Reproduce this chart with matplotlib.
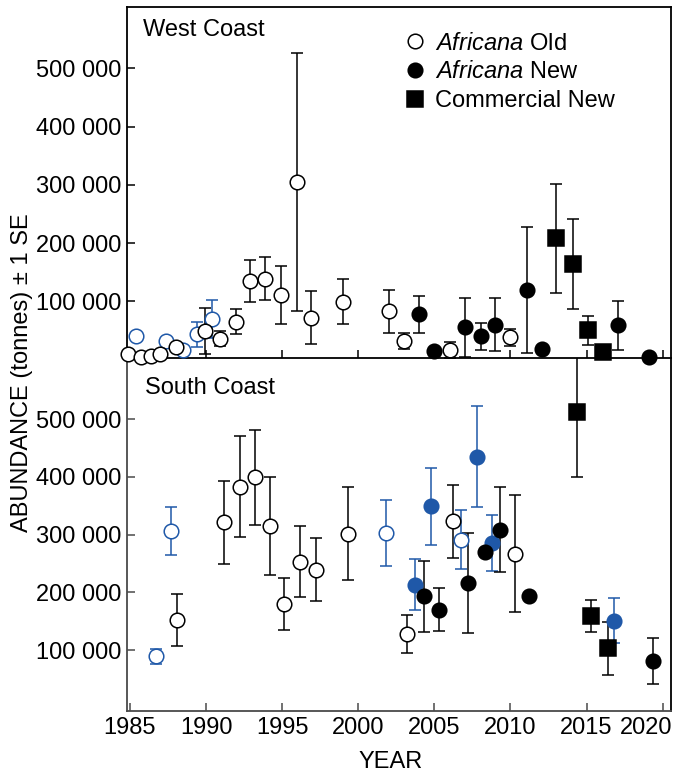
import matplotlib
matplotlib.use("Agg")
import matplotlib.pyplot as plt
from matplotlib.lines import Line2D
from matplotlib.ticker import FuncFormatter
from matplotlib.transforms import ScaledTranslation

plt.rcParams['font.family'] = ['Liberation Sans', 'DejaVu Sans']
plt.rcParams['mathtext.fontset'] = 'custom'
plt.rcParams['mathtext.rm'] = 'Liberation Sans'
plt.rcParams['mathtext.it'] = 'Liberation Sans:italic'

BLUE = '#1f58a8'
GREY = '#4a4a4a'

# ---- West Coast ----
# Africana Old (black)
w_old_yr = [1984.9, 1985.7, 1986.4, 1987.0, 1988.0, 1989.9, 1990.9, 1992.0, 1992.9, 1993.9,
            1994.9, 1996.0, 1996.9, 1999.0, 2002.0, 2003.0, 2006.0, 2010.0]
w_old_val = [9800, 4000, 5700, 10000, 21000, 49000, 36000, 65000, 135000, 139000,
             111000, 305000, 72000, 99000, 83000, 31600, 16000, 38500]
w_old_se = [0, 0, 0, 0, 0, 39000, 13000, 22000, 36000, 36500,
            49500, 222000, 45000, 38500, 37000, 14000, 14000, 14500]
# Africana Old (blue)
w_oldb_yr = [1985.4, 1987.4, 1988.5, 1989.4, 1990.4]
w_oldb_val = [39600, 31500, 17000, 43000, 70000]
w_oldb_se = [0, 0, 0, 21500, 33000]
# Africana New (black)
w_new_yr = [2004.0, 2005.0, 2007.0, 2008.1, 2009.0, 2011.1, 2012.1, 2017.1, 2019.1]
w_new_val = [77600, 14000, 55000, 40000, 60000, 119000, 18000, 58600, 4600]
w_new_se = [32000, 0, 50700, 23500, 45000, 108000, 0, 42000, 0]
# Commercial New
w_com_yr = [2013.0, 2014.1, 2015.1, 2016.1]
w_com_val = [208000, 164000, 50000, 12600]
w_com_se = [94000, 76500, 25000, 0]

# ---- South Coast ----
s_old_yr = [1988.1, 1991.2, 1992.2, 1993.2, 1994.2, 1995.1, 1996.2, 1997.2, 1999.3,
            2003.2, 2006.2, 2010.3]
s_old_val = [152000, 321000, 383000, 399000, 315000, 180000, 253000, 239000, 301000,
             128000, 323000, 267000]
s_old_se = [45000, 72000, 88000, 82000, 85000, 45000, 61000, 54500, 80500,
            33000, 63000, 101000]
s_oldb_yr = [1986.7, 1987.7, 2001.8, 2006.75]
s_oldb_val = [88800, 306000, 302000, 291000]
s_oldb_se = [13500, 41000, 57000, 51000]
s_newb_yr = [2003.7, 2004.8, 2007.8, 2008.8, 2016.8]
s_newb_val = [213000, 349000, 435000, 286000, 151000]
s_newb_se = [44000, 67000, 87000, 48500, 39500]
s_new_yr = [2004.3, 2005.3, 2007.2, 2008.3, 2009.3, 2011.2, 2019.35]
s_new_val = [193000, 170000, 216000, 269000, 308000, 193000, 81000]
s_new_se = [62000, 37000, 86000, 0, 73500, 0, 39500]
s_com_yr = [2014.4, 2015.3, 2016.4]
s_com_val = [512000, 159000, 103000]
s_com_se = [112500, 27500, 46000]

year_ticks = [1985, 1990, 1995, 2000, 2005, 2010, 2015, 2020]
abund_ticks = [100000, 200000, 300000, 400000, 500000]


def draw(ax, yr, val, se, marker, face, edge):
    ms = 11.5 if marker == 's' else 10.5
    ax.errorbar(yr, val, yerr=se, fmt=marker, ms=ms, mfc=face, mec=edge, mew=1.1,
                ecolor=edge, elinewidth=1.1, capsize=4.5, capthick=1.1,
                clip_on=False, zorder=3)


fig = plt.figure(figsize=(6.77, 7.75), dpi=100)
ax1 = fig.add_axes([0.1872, 0.538, 0.8039, 0.453])
ax2 = fig.add_axes([0.1872, 0.0826, 0.8039, 0.4554])
ax1.set_zorder(3)

draw(ax1, w_oldb_yr, w_oldb_val, w_oldb_se, 'o', 'white', BLUE)
draw(ax1, w_old_yr, w_old_val, w_old_se, 'o', 'white', 'black')
draw(ax1, w_new_yr, w_new_val, w_new_se, 'o', 'black', 'black')
draw(ax1, w_com_yr, w_com_val, w_com_se, 's', 'black', 'black')

draw(ax2, s_oldb_yr, s_oldb_val, s_oldb_se, 'o', 'white', BLUE)
draw(ax2, s_old_yr, s_old_val, s_old_se, 'o', 'white', 'black')
draw(ax2, s_newb_yr, s_newb_val, s_newb_se, 'o', BLUE, BLUE)
draw(ax2, s_new_yr, s_new_val, s_new_se, 'o', 'black', 'black')
draw(ax2, s_com_yr, s_com_val, s_com_se, 's', 'black', 'black')

fmt = FuncFormatter(lambda v, p: f"{int(v):,}".replace(',', ' '))
for ax in (ax1, ax2):
    ax.set_xlim(1984.79, 2020.55)
    ax.set_xticks(year_ticks)
    ax.set_yticks(abund_ticks)
    ax.yaxis.set_major_formatter(fmt)
    ax.tick_params(direction='in', length=6, width=1.1, labelsize=17, pad=4)
    for s in ax.spines.values():
        s.set_linewidth(1.3)

ax1.set_ylim(2500, 605500)
ax2.set_ylim(-5600, 605600)
ax1.tick_params(axis='x', labelbottom=False)
ax2.spines['left'].set_color(GREY)
ax2.spines['bottom'].set_color(GREY)
ax2.spines['top'].set_visible(False)
ax2.tick_params(colors=GREY, labelcolor='black')

# last year label is pulled left so it stays inside the figure
last = ax2.get_xticklabels()[-1]
last.set_transform(last.get_transform() + ScaledTranslation(-0.16, 0, fig.dpi_scale_trans))

ax1.text(0.029, 0.917, 'West Coast', transform=ax1.transAxes, fontsize=17, va='baseline')
ax2.text(0.034, 0.898, 'South Coast', transform=ax2.transAxes, fontsize=17, va='baseline')

ax2.set_xlabel('YEAR', fontsize=17, labelpad=9)
ax2.xaxis.label.set_x(0.485)
fig.text(22 / 677, 1 - 373 / 775, 'ABUNDANCE (tonnes) ± 1 SE', rotation=90,
         ha='center', va='center', fontsize=17)

handles = [
    Line2D([], [], ls='none', marker='o', ms=10.5, mfc='white', mec='black', mew=1.1),
    Line2D([], [], ls='none', marker='o', ms=10.5, mfc='black', mec='black', mew=1.1),
    Line2D([], [], ls='none', marker='s', ms=11, mfc='black', mec='black', mew=1.1),
]
labels = [r'$\it{Africana}$ Old', r'$\it{Africana}$ New', 'Commercial New']
ax1.legend(handles, labels, loc='upper left', bbox_to_anchor=(0.508, 0.927), frameon=False,
           fontsize=17, handlelength=1.0, handletextpad=0.35, labelspacing=0.28,
           borderaxespad=0, borderpad=0)

fig.savefig('out.png', dpi=100)
